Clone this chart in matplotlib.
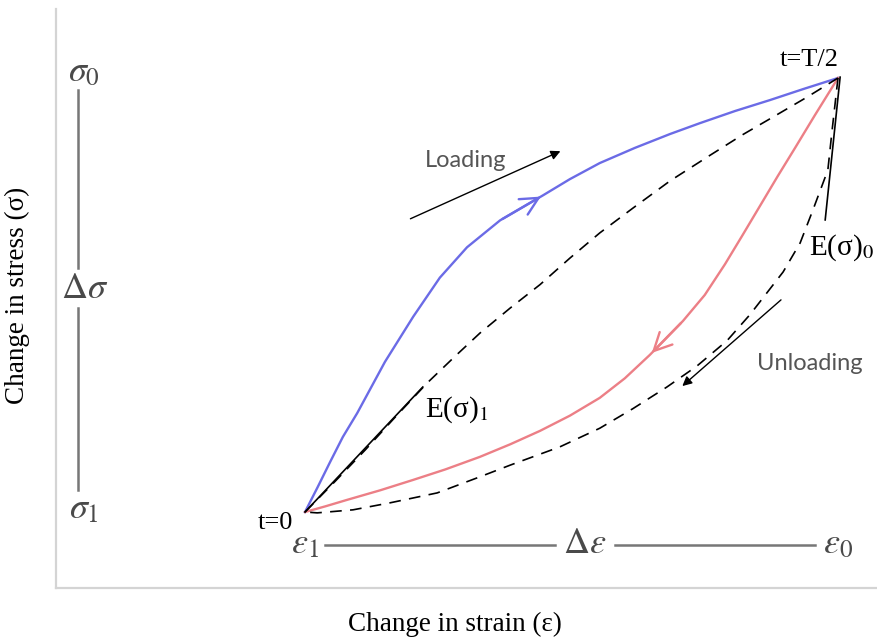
import numpy as np
import matplotlib.pyplot as plt

plt.rcParams['mathtext.fontset'] = 'stix'
plt.rcParams['font.family'] = ['Liberation Serif', 'DejaVu Serif']

# curves, strain and stress scaled 0..1 (t=0 -> t=T/2)
loading_strain = [0, 0.024, 0.047, 0.071, 0.098, 0.150, 0.203, 0.253, 0.304, 0.366, 0.447,
                  0.497, 0.553, 0.619, 0.685, 0.741, 0.807, 0.872, 0.936, 1]
loading_stress = [0, 0.058, 0.115, 0.173, 0.228, 0.346, 0.450, 0.540, 0.610, 0.672, 0.730,
                  0.767, 0.804, 0.839, 0.871, 0.896, 0.924, 0.949, 0.975, 1]

unloading_strain = [1, 0.957, 0.919, 0.887, 0.854, 0.820, 0.788, 0.750, 0.709, 0.647, 0.600,
                    0.553, 0.497, 0.441, 0.385, 0.328, 0.263, 0.203, 0.141, 0.079, 0.038, 0]
unloading_stress = [1, 0.915, 0.838, 0.774, 0.706, 0.636, 0.571, 0.500, 0.440, 0.362, 0.308,
                    0.263, 0.222, 0.187, 0.156, 0.127, 0.098, 0.074, 0.050, 0.028, 0.013, 0]

upper_dash_strain = [0, 0.056, 0.113, 0.171, 0.229, 0.280, 0.328, 0.385, 0.441, 0.497, 0.553,
                     0.615, 0.685, 0.760, 0.822, 0.878, 0.942, 1]
upper_dash_stress = [0, 0.070, 0.143, 0.221, 0.297, 0.357, 0.412, 0.470, 0.524, 0.585, 0.643,
                     0.700, 0.763, 0.822, 0.870, 0.910, 0.956, 1]

lower_dash_strain = [1, 0.989, 0.981, 0.953, 0.929, 0.897, 0.835, 0.792, 0.735, 0.679, 0.615, 0.553,
                     0.478, 0.385, 0.328, 0.248, 0.159, 0.090, 0.023, 0]
lower_dash_stress = [1, 0.880, 0.788, 0.696, 0.620, 0.553, 0.455, 0.395, 0.336, 0.288, 0.238, 0.193,
                     0.150, 0.108, 0.081, 0.044, 0.021, 0.005, -0.002, 0]

# tangent moduli
tangent_1 = ([0, 0.221], [0, 0.288])
tangent_0 = ([1.004, 0.976], [1.002, 0.673])

blue = '#6b6be6'
red = '#ec7f86'
grey_txt = '#4a4a4a'

fig = plt.figure(figsize=(8.77, 6.39), dpi=100)
ax = fig.add_axes([56/877, 51/639, 1 - 56/877, 630/639 - 51/639])
ax.set_xlim(-0.4672, 1.0732)
ax.set_ylim(-0.1751, 1.159)
for s in ['top', 'right']:
    ax.spines[s].set_visible(False)
for s in ['left', 'bottom']:
    ax.spines[s].set_color('#d4d4d4')
    ax.spines[s].set_linewidth(1.6)
ax.set_xticks([])
ax.set_yticks([])

ax.plot(loading_strain, loading_stress, color=blue, lw=1.7)
ax.plot(unloading_strain, unloading_stress, color=red, lw=1.7)
ax.plot(upper_dash_strain, upper_dash_stress, color='black', lw=1.2, dashes=(7, 5))
ax.plot(lower_dash_strain, lower_dash_stress, color='black', lw=1.2, dashes=(7, 5))
ax.plot(*tangent_1, color='black', lw=1.2)
ax.plot(*tangent_0, color='black', lw=1.2)

# direction marks on the curves
ax.annotate('', xy=(loading_strain[10], loading_stress[10]), xytext=(loading_strain[9], loading_stress[9]),
            arrowprops=dict(arrowstyle='->', color=blue, lw=1.7, mutation_scale=32))
ax.annotate('', xy=(unloading_strain[9], unloading_stress[9]), xytext=(unloading_strain[8], unloading_stress[8]),
            arrowprops=dict(arrowstyle='->', color=red, lw=1.7, mutation_scale=32))

# loading / unloading arrows
ax.annotate('', xy=(0.484, 0.834), xytext=(0.193, 0.673),
            arrowprops=dict(arrowstyle='-|>', color='black', lw=1.0, mutation_scale=14))
ax.annotate('', xy=(0.704, 0.286), xytext=(0.897, 0.493),
            arrowprops=dict(arrowstyle='-|>', color='black', lw=1.0, mutation_scale=14))
ax.text(0.302, 0.811, 'Loading', family=['Lato', 'DejaVu Sans'], fontsize=17, color='#555555',
        ha='center', va='center')
ax.text(0.947, 0.343, 'Unloading', family=['Lato', 'DejaVu Sans'], fontsize=17, color='#555555',
        ha='center', va='center')

ax.text(0.946, 1.041, 't=T/2', fontsize=19, ha='center', va='center')
ax.text(-0.055, -0.025, 't=0', fontsize=19, ha='center', va='center')
ax.text(0.285, 0.235, r'E(σ)$_{1}$', fontsize=21, ha='center', va='center')
ax.text(1.007, 0.608, r'E(σ)$_{0}$', fontsize=21, ha='center', va='center')

# stress range marker
sx = -0.4259
ax.plot([sx, sx], [0.972, 0.562], color='#777777', lw=1.8)
ax.plot([sx, sx], [0.470, 0.051], color='#777777', lw=1.8)
ax.text(sx + 0.012, 1.012, r'$\sigma_0$', fontsize=26, color=grey_txt, ha='center', va='center')
ax.text(sx + 0.012, 0.512, r'$\Delta\sigma$', fontsize=26, color=grey_txt, ha='center', va='center')
ax.text(sx + 0.012, 0.005, r'$\sigma_1$', fontsize=26, color=grey_txt, ha='center', va='center')

# strain range marker
ey = -0.076
ax.plot([0.0375, 0.469], [ey, ey], color='#777777', lw=1.8)
ax.plot([0.582, 0.957], [ey, ey], color='#777777', lw=1.8)
ax.text(0.0, ey, r'$\varepsilon_1$', fontsize=26, color=grey_txt, ha='center', va='center')
ax.text(0.525, ey, r'$\Delta\varepsilon$', fontsize=26, color=grey_txt, ha='center', va='center')
ax.text(1.0, ey, r'$\varepsilon_0$', fontsize=26, color=grey_txt, ha='center', va='center')

ax.set_xlabel('Change in strain (ε)', fontsize=19.5)
ax.set_ylabel('Change in stress (σ)', fontsize=19.5)
ax.xaxis.set_label_coords((455 - 56) / 821, -24 / 579)
ax.yaxis.set_label_coords(-26 / 821, (588 - 295) / 579)

plt.savefig('out.png', dpi=100)
